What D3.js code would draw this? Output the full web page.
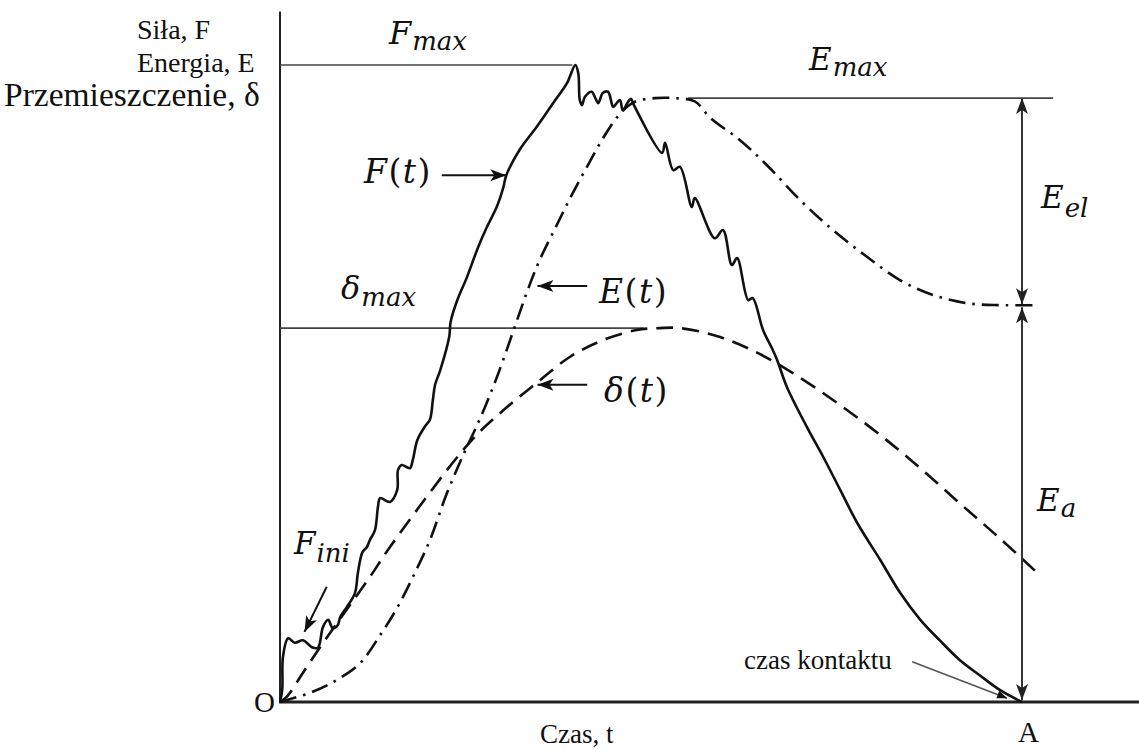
<!DOCTYPE html>
<html>
<head>
<meta charset="utf-8">
<script src="https://cdn.jsdelivr.net/npm/d3@7"></script>
<style>
  body { margin: 0; background: #fff; }
  svg { display: block; }
</style>
</head>
<body>
<svg id="chart" width="1139" height="749"></svg>
<script>
// Impact test record: force, energy and displacement against time.
// Time runs 0..10 (contact ends at t = 10); all three quantities share
// one relative vertical scale, 0..100 (force peak = 100).

const forceT = [0, 0.03, 0.04, 0.11, 0.20, 0.31, 0.43, 0.51, 0.58, 0.65, 0.71, 0.78, 0.81, 0.90, 1.01, 1.05, 1.11, 1.17, 1.21, 1.28, 1.32, 1.35, 1.48, 1.58, 1.59, 1.64, 1.75, 1.79, 1.85, 1.95, 2.02, 2.06, 2.09, 2.16, 2.28, 2.30, 2.39, 2.52, 2.67, 2.79, 2.92, 3.01, 3.05, 3.23, 3.46, 3.68, 3.87, 3.98, 4.02, 4.04, 4.07, 4.11, 4.20, 4.25, 4.29, 4.35, 4.42, 4.47, 4.49, 4.58, 4.62, 4.69, 4.73, 4.77, 5.15, 5.19, 5.30, 5.39, 5.55, 5.59, 5.86, 5.97, 6.09, 6.16, 6.31, 6.37, 6.51, 6.64, 6.70, 6.83, 7.10, 7.32, 7.55, 7.78, 8.09, 8.36, 8.63, 8.89, 9.16, 9.43, 9.70, 10];
const forceV = [0, 1.9, 7.1, 10.0, 9.3, 9.7, 8.6, 8.5, 11.8, 12.9, 11.6, 12.1, 13.3, 14.9, 17.1, 20.3, 23.5, 24.3, 25.4, 27.0, 30.6, 32.0, 31.4, 33.3, 36.4, 37.2, 36.7, 38.0, 41.1, 43.2, 44.3, 47.4, 49.8, 52.1, 57.3, 59.7, 63.1, 66.7, 71.4, 74.6, 77.7, 80.8, 82.7, 86.7, 90.3, 94.0, 97.2, 100, 98.7, 94.5, 93.7, 95.0, 95.8, 94.8, 94.0, 95.6, 95.8, 94.0, 93.4, 94.5, 92.9, 94.2, 94.7, 93.7, 86.2, 87.8, 83.5, 84.0, 77.7, 79.1, 72.8, 74.1, 68.6, 69.7, 63.1, 63.4, 58.4, 55.3, 53.7, 49.5, 43.2, 38.5, 33.3, 28.1, 22.3, 17.1, 12.9, 9.7, 6.6, 4.2, 1.9, 0];

const energyT = [0, 0.44, 0.77, 1.08, 1.35, 1.58, 1.79, 2.02, 2.24, 2.47, 2.70, 2.92, 3.14, 3.33, 3.50, 3.71, 3.91, 4.15, 4.38, 4.58, 4.78, 5.05, 5.32, 5.59, 5.80, 6.20, 6.56, 7.01, 7.45, 7.91, 8.36, 8.80, 9.26, 9.70, 10.18];
const energyV = [0, 1.6, 3.5, 6.1, 10.5, 14.8, 19.6, 25.4, 32.5, 38.8, 44.6, 50.9, 58.1, 64.4, 69.4, 74.4, 79.1, 84.3, 89.0, 92.3, 94.2, 94.8, 94.8, 94.3, 91.7, 88.2, 84.3, 78.8, 74.1, 69.9, 66.2, 63.9, 62.6, 62.3, 62.3];

const dispT = [0, 0.09, 0.31, 0.54, 0.77, 1.21, 1.48, 2.56, 3.01, 3.46, 3.91, 4.35, 4.81, 5.12, 5.39, 5.93, 6.47, 7.01, 7.55, 8.09, 8.63, 9.16, 9.70, 10.24];
const dispV = [0, 0.8, 4.6, 8.6, 12.4, 19.6, 24.3, 40.8, 45.8, 50.1, 54.2, 56.8, 58.4, 58.7, 58.7, 57.3, 54.6, 50.9, 46.6, 41.9, 36.7, 31.2, 25.7, 19.9];

// Characteristic levels
const fMax = 100;       // peak force
const eMax = 94.8;      // peak energy
const eEnd = 62.3;      // energy left at end of contact (absorbed)
const dMax = 58.7;      // peak displacement
const tPeakF = 3.98;    // time of peak force
const tContact = 10;    // contact time (point A)

const svg = d3.select("#chart");
const x = d3.scaleLinear().domain([0, 10]).range([280, 1022]);
const y = d3.scaleLinear().domain([0, 100]).range([702, 65]);

const INK = "#111";
const THIN = "#444";
const SERIF = "'Liberation Serif', 'Times New Roman', serif";
const MATH = "'DejaVu Serif', serif";

// Arrowhead markers
const defs = svg.append("defs");
function marker(id, len, half, notch, color) {
  defs.append("marker")
    .attr("id", id)
    .attr("viewBox", `${-len - 1} ${-half - 1} ${len + 2} ${2 * half + 2}`)
    .attr("refX", 0).attr("refY", 0)
    .attr("markerWidth", len + 2).attr("markerHeight", 2 * half + 2)
    .attr("markerUnits", "userSpaceOnUse")
    .attr("orient", "auto-start-reverse")
    .append("path")
    .attr("d", `M0,0 L${-len},${-half} L${-len + notch},0 L${-len},${half} Z`)
    .attr("fill", color);
}
marker("head", 16, 6, 4, INK);
marker("headDim", 16, 6, 4, "#222");
marker("headSmall", 10, 4, 0, INK);

// Axes
svg.append("line")
  .attr("x1", x(0)).attr("x2", x(0))
  .attr("y1", y(0) + 1).attr("y2", y(108.4))
  .attr("stroke", "#222").attr("stroke-width", 2);
svg.append("line")
  .attr("x1", x(0) - 1).attr("x2", x(11.6))
  .attr("y1", y(0)).attr("y2", y(0))
  .attr("stroke", "#222").attr("stroke-width", 3);

// Reference levels
svg.append("line")
  .attr("x1", x(0)).attr("x2", x(tPeakF - 0.04))
  .attr("y1", y(fMax)).attr("y2", y(fMax))
  .attr("stroke", THIN).attr("stroke-width", 1.6);
svg.append("line")
  .attr("x1", x(5.5)).attr("x2", x(10.42))
  .attr("y1", y(eMax)).attr("y2", y(eMax))
  .attr("stroke", THIN).attr("stroke-width", 1.6);
svg.append("line")
  .attr("x1", x(0)).attr("x2", x(4.9))
  .attr("y1", y(dMax)).attr("y2", y(dMax))
  .attr("stroke", THIN).attr("stroke-width", 1.6);

// Curves
const toPts = (ts, vs) => ts.map((t, i) => [t, vs[i]]);
const line = d3.line()
  .x(d => x(d[0])).y(d => y(d[1]))
  .curve(d3.curveCatmullRom.alpha(0.5));

svg.append("path")
  .attr("d", line(toPts(dispT, dispV)))
  .attr("fill", "none").attr("stroke", INK).attr("stroke-width", 2.6)
  .attr("stroke-dasharray", "17,9");
svg.append("path")
  .attr("d", line(toPts(energyT, energyV)))
  .attr("fill", "none").attr("stroke", INK).attr("stroke-width", 2.6)
  .attr("stroke-dasharray", "17,7,2.5,7");
svg.append("path")
  .attr("d", line(toPts(forceT, forceV)))
  .attr("fill", "none").attr("stroke", INK).attr("stroke-width", 2.6)
  .attr("stroke-linejoin", "round");

// Energy split at end of contact: elastic (top) and absorbed (bottom)
svg.append("line")
  .attr("x1", x(tContact)).attr("x2", x(tContact))
  .attr("y1", y(eMax)).attr("y2", y(eEnd) - 1)
  .attr("stroke", "#333").attr("stroke-width", 2)
  .attr("marker-start", "url(#headDim)").attr("marker-end", "url(#headDim)");
svg.append("line")
  .attr("x1", x(tContact)).attr("x2", x(tContact))
  .attr("y1", y(eEnd) + 2).attr("y2", y(0) - 2)
  .attr("stroke", "#333").attr("stroke-width", 2)
  .attr("marker-start", "url(#headDim)").attr("marker-end", "url(#headDim)");

// Pointer arrows to the curves
function pointer(t0, v0, t1, v1) {
  svg.append("line")
    .attr("x1", x(t0)).attr("y1", y(v0))
    .attr("x2", x(t1)).attr("y2", y(v1))
    .attr("stroke", INK).attr("stroke-width", 2)
    .attr("marker-end", "url(#head)");
}
pointer(2.18, 82.7, 3.05, 82.7);   // F(t)
pointer(4.14, 65.3, 3.47, 65.3);   // E(t)
pointer(4.14, 49.8, 3.47, 49.8);   // δ(t)
pointer(0.63, 18.1, 0.33, 11.0);   // F_ini

// Contact-time leader
svg.append("line")
  .attr("x1", x(8.52)).attr("y1", y(6.3))
  .attr("x2", x(9.8)).attr("y2", y(0.6))
  .attr("stroke", "#555").attr("stroke-width", 1.6)
  .attr("marker-end", "url(#headSmall)");

// Text
function plain(px, py, str, size, anchor) {
  svg.append("text")
    .attr("x", px).attr("y", py)
    .attr("font-family", SERIF).attr("font-size", size)
    .attr("text-anchor", anchor || "start")
    .attr("fill", INK).text(str);
}
plain(137, 39, "Siła, F", 28);
plain(137, 72, "Energia, E", 28);
plain(4, 106, "Przemieszczenie, δ", 33.5);
plain(254, 712, "O", 29);
plain(1018, 742, "A", 29);
plain(540, 743, "Czas, t", 27);
plain(744, 669, "czas kontaktu", 27);

// Symbol with italic subscript
function symbol(px, py, main, sub, size, subSize, subDrop) {
  const t = svg.append("text")
    .attr("x", px).attr("y", py)
    .attr("font-family", MATH).attr("font-style", "italic")
    .attr("font-size", size).attr("fill", INK);
  t.append("tspan").text(main);
  t.append("tspan").attr("font-size", subSize).attr("dy", subDrop)
    .attr("dx", 1).text(sub);
}
symbol(389, 44, "F", "max", 32, 26, 6);
symbol(809, 70, "E", "max", 31, 26, 6);
symbol(341, 299, "δ", "max", 32, 26, 7);
symbol(1041, 208, "E", "el", 31, 26, 9);
symbol(1037, 511, "E", "a", 31, 26, 6);
symbol(294, 554, "F", "ini", 31, 26, 8);

// Function-of-time labels
function funcLabel(px, py, name, size) {
  const t = svg.append("text")
    .attr("x", px).attr("y", py)
    .attr("font-family", MATH).attr("font-size", size)
    .attr("letter-spacing", 1.5).attr("fill", INK);
  t.append("tspan").attr("font-style", "italic").text(name);
  t.append("tspan").text("(");
  t.append("tspan").attr("font-style", "italic").text("t");
  t.append("tspan").text(")");
}
funcLabel(364, 183, "F", 33);
funcLabel(599, 303, "E", 33);
funcLabel(604, 402, "δ", 33);
</script>
</body>
</html>
